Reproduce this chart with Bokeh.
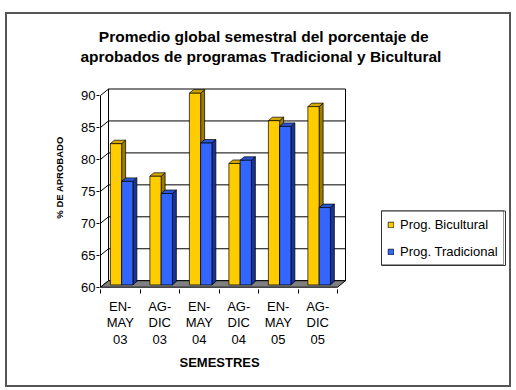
from bokeh.plotting import figure
from bokeh.models import Range1d, FixedTicker, Legend, LegendItem, Title
from bokeh.embed import file_html
from bokeh.resources import INLINE

# ---------------- data ----------------
semesters = ["EN-\nMAY\n03", "AG-\nDIC\n03", "EN-\nMAY\n04",
             "AG-\nDIC\n04", "EN-\nMAY\n05", "AG-\nDIC\n05"]
bicultural = [82.1, 77.0, 90.0, 79.0, 85.7, 87.9]
tradicional = [76.2, 74.3, 82.2, 79.5, 84.8, 72.1]
y_ticks = [60, 65, 70, 75, 80, 85, 90]
series_names = ["Prog. Bicultural", "Prog. Tradicional"]
title_lines = ["Promedio global semestral del porcentaje de",
               "aprobados de programas Tradicional y Bicultural"]

# ---------------- geometry (styling) ----------------
PX_X = 39.5          # pixels per category
PX_Y = 6.39          # pixels per value unit
YMIN, YMAX = 60, 90
NCAT = len(semesters)
DX = 8 / PX_X        # wall depth
DY = 6.5 / PX_Y
BY = 2.3 / PX_Y      # bar depth position
SDX = 4 / PX_X       # bar side depth
SDY = 3.5 / PX_Y
BAR_W = 0.285
STARTS = [0.25, 0.535]

FONT = "Liberation Sans"


def xd(xi):
    """page pixel -> data x (layout helper for the legend frame)"""
    return (xi - 100) / PX_X


def yd(yi):
    return YMIN + (286.7 - yi) / PX_Y


p = figure(width=506, height=375,
           x_range=Range1d(-1 / PX_X, 409 / PX_X),
           y_range=Range1d(YMIN - 2.3 / PX_Y, YMIN + 221.7 / PX_Y),
           output_backend="svg", toolbar_location=None,
           min_border_left=92, min_border_right=4,
           min_border_top=51, min_border_bottom=100)
p.styles = {"margin-left": "5px", "margin-top": "12px",
            "border": "2px solid #555"}
p.outline_line_color = None
p.xgrid.visible = False
p.ygrid.visible = False
p.background_fill_color = "white"
p.border_fill_color = "white"

# walls
p.patch([DX, NCAT + DX, NCAT + DX, DX],
        [YMIN + DY, YMIN + DY, YMAX + DY, YMAX + DY],
        fill_color="white", line_color="black", line_width=1)
p.patch([0, DX, DX, 0], [YMIN, YMIN + DY, YMAX + DY, YMAX],
        fill_color="white", line_color="black", line_width=1)
mid = [v for v in y_ticks if YMIN < v < YMAX]
p.segment(x0=[DX] * len(mid), y0=[v + DY for v in mid],
          x1=[NCAT + DX] * len(mid), y1=[v + DY for v in mid],
          line_color="black", line_width=1)
p.segment(x0=[0] * len(mid), y0=mid, x1=[DX] * len(mid),
          y1=[v + DY for v in mid], line_color="black", line_width=1)
# floor
p.patch([0, NCAT, NCAT + DX, DX], [YMIN, YMIN, YMIN + DY, YMIN + DY],
        fill_color="#808080", line_color="black", line_width=1)


def faces(values, start):
    fx, fy, sx, sy, tx, ty = [], [], [], [], [], []
    for i, v in enumerate(values):
        x0 = i + start
        x1 = x0 + BAR_W
        b = YMIN + BY
        t = v + BY
        fx.append([x0, x1, x1, x0]); fy.append([b, b, t, t])
        sx.append([x1, x1 + SDX, x1 + SDX, x1]); sy.append([b, b + SDY, t + SDY, t])
        tx.append([x0, x1, x1 + SDX, x0 + SDX]); ty.append([t, t, t + SDY, t + SDY])
    return fx, fy, sx, sy, tx, ty


legend_items = []
for vals, start, cols, name in [
        (bicultural, STARTS[0], ("#FFCC00", "#9C7C00", "#D4A800"), series_names[0]),
        (tradicional, STARTS[1], ("#3366FF", "#1A3399", "#2A55D5"), series_names[1])]:
    fx, fy, sx, sy, tx, ty = faces(vals, start)
    p.patches(sx, sy, fill_color=cols[1], line_color="black", line_width=0.7)
    p.patches(tx, ty, fill_color=cols[2], line_color="black", line_width=0.7)
    r = p.patches(fx, fy, fill_color=cols[0], line_color="black", line_width=0.7)
    legend_items.append(LegendItem(label=name, renderers=[r]))

# legend frame drawn as four line segments
bl, br, bt, bb = xd(381), xd(505), yd(210.5), yd(265)
p.segment(x0=[bl, bl, bl, br], y0=[bb, bt, bb, bb],
          x1=[br, br, bl, br], y1=[bb, bt, bt, bt],
          line_color="#333333", line_width=1)

# axes
yax = p.yaxis[0]
yax.ticker = FixedTicker(ticks=y_ticks)
yax.axis_line_color = None
yax.major_tick_out = 3
yax.major_tick_in = 0
yax.minor_tick_line_color = None
yax.major_label_standoff = 1
yax.major_label_text_font = FONT
yax.major_label_text_font_size = "13px"
yax.major_label_text_color = "black"
yax.axis_label = "% DE APROBADO"
yax.axis_label_text_font = FONT
yax.axis_label_text_font_size = "9.5px"
yax.axis_label_text_font_style = "bold"
yax.axis_label_text_color = "black"
yax.axis_label_standoff = 13

xax = p.xaxis[0]
centers = [i + 0.5 for i in range(NCAT)]
xax.ticker = FixedTicker(ticks=centers, minor_ticks=list(range(NCAT + 1)))
xax.major_label_overrides = {c: s for c, s in zip(centers, semesters)}
xax.axis_line_color = None
xax.major_tick_out = 0
xax.major_tick_in = 0
xax.minor_tick_out = 4
xax.minor_tick_in = 0
xax.minor_tick_line_color = "black"
xax.major_label_standoff = 5
xax.major_label_text_font = FONT
xax.major_label_text_font_size = "13px"
xax.major_label_text_color = "black"
xax.major_label_text_line_height = 1.13

# x-axis title, centred under the category area
xtitle = Title(text="SEMESTRES", align="left", offset=80, standoff=9,
               vertical_align="top", text_font=FONT, text_font_size="13px",
               text_font_style="bold", text_color="black")
p.add_layout(xtitle, "below")

# two-line title, each line centred as in the reference
t2 = Title(text=title_lines[1], align="left", offset=-19, standoff=2,
           text_font=FONT, text_font_size="15.5px", text_font_style="bold",
           text_color="black")
t1 = Title(text=title_lines[0], align="left", offset=-0.7, standoff=0,
           text_font=FONT, text_font_size="15.5px", text_font_style="bold",
           text_color="black")
p.add_layout(t2, "above")
p.add_layout(t1, "above")

legend = Legend(items=legend_items, location=(282, 24),
                border_line_color="#333333", border_line_width=1,
                background_fill_alpha=0,
                label_text_font=FONT, label_text_font_size="13px",
                label_text_color="black",
                glyph_width=7, glyph_height=7, label_height=16,
                spacing=11, padding=5, margin=0, label_standoff=6)
p.add_layout(legend, "center")

open("out.html", "w").write(file_html(p, INLINE))
